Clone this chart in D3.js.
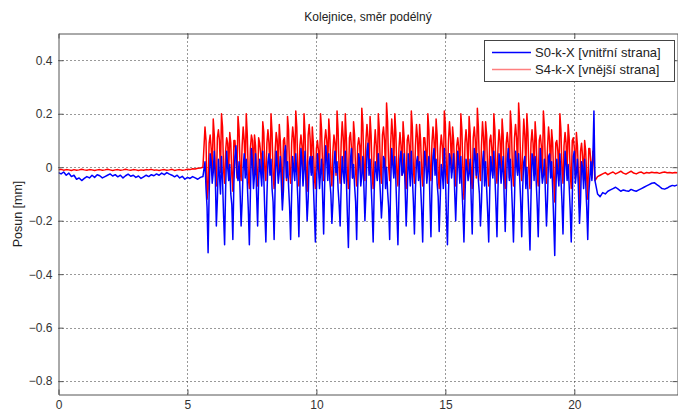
<!DOCTYPE html>
<html><head><meta charset="utf-8">
<script src="https://cdn.jsdelivr.net/npm/d3@7"></script>
<style>body{margin:0;background:#fff}text{font-family:"Liberation Sans",Arial,Helvetica,sans-serif}</style>
</head><body><svg id="c" width="678" height="414"></svg>
<script>
const titleText="Kolejnice, směr podélný";
const yLabel="Posun [mm]";
const seriesNames=["S0-k-X [vnitřní strana]","S4-k-X [vnější strana]"];
const xTicks=[0,5,10,15,20];
const yTicks=[0.4,0.2,0,-0.2,-0.4,-0.6,-0.8];
// sampling grid of each recorded segment: start time, step
const segStart=[0,5.68,20.9];
const segStep=[0.1,0.04,0.1];

const blueA=[-0.02,-0.025,-0.018,-0.03,-0.022,-0.035,-0.03,-0.045,-0.04,-0.05,
-0.042,-0.035,-0.04,-0.03,-0.038,-0.028,-0.032,-0.04,-0.035,-0.03,
-0.025,-0.033,-0.028,-0.036,-0.03,-0.04,-0.032,-0.026,-0.034,-0.03,
-0.038,-0.033,-0.042,-0.036,-0.03,-0.035,-0.028,-0.032,-0.025,-0.03,
-0.022,-0.028,-0.02,-0.026,-0.03,-0.036,-0.03,-0.04,-0.034,-0.045,
-0.038,-0.042,-0.035,-0.04,-0.045,-0.038,-0.035];
const redA=[-0.01,-0.008,-0.011,-0.009,-0.01,-0.012,-0.009,-0.011,-0.01,-0.008,
-0.01,-0.011,-0.009,-0.01,-0.012,-0.01,-0.009,-0.011,-0.01,-0.008,
-0.01,-0.012,-0.01,-0.009,-0.011,-0.01,-0.008,-0.01,-0.011,-0.009,
-0.01,-0.012,-0.01,-0.011,-0.009,-0.01,-0.008,-0.011,-0.01,-0.012,
-0.01,-0.009,-0.011,-0.01,-0.008,-0.012,-0.01,-0.009,-0.011,-0.01,
-0.008,-0.009,-0.006,-0.007,-0.004,-0.003,0.0];

const blueDense=[
0.02,-0.08,-0.15,-0.32,-0.1,0.05,0.02,-0.06,
-0.02,0.06,-0.04,-0.22,-0.12,0.03,-0.03,-0.1,
0.04,-0.05,-0.18,-0.29,-0.08,0.06,0.0,-0.05,
0.01,-0.1,-0.14,-0.27,-0.06,0.04,0.08,-0.02,
-0.05,0.02,-0.09,-0.22,-0.13,0.0,0.05,-0.04,
0.03,-0.06,-0.16,-0.29,-0.1,0.07,0.02,-0.08,
-0.03,0.05,-0.1,-0.22,-0.05,0.03,-0.02,-0.07,
0.06,-0.04,-0.17,-0.28,-0.11,0.02,0.05,-0.03,
0.03,-0.08,-0.13,-0.27,-0.07,0.06,0.01,-0.06,
-0.02,0.04,-0.06,-0.16,-0.09,0.05,0.08,-0.04,
0.02,-0.07,-0.15,-0.27,-0.1,0.04,-0.01,-0.05,
0.05,-0.03,-0.12,-0.26,-0.08,0.07,0.02,-0.07,
-0.01,0.06,-0.08,-0.2,-0.12,0.02,0.04,-0.03,
0.04,-0.06,-0.17,-0.28,-0.09,0.05,0.0,-0.08,
-0.02,0.03,-0.11,-0.25,-0.06,0.08,0.03,-0.05,
0.05,-0.05,-0.1,-0.21,-0.13,0.01,0.06,-0.02,
0.02,-0.08,-0.14,-0.22,-0.07,0.04,-0.02,-0.06,
0.06,-0.04,-0.18,-0.3,-0.11,0.03,0.07,-0.04,
0.01,-0.07,-0.13,-0.27,-0.08,0.05,0.02,-0.07,
-0.03,0.04,-0.07,-0.2,-0.1,0.06,0.09,-0.03,
0.03,-0.06,-0.16,-0.28,-0.09,0.02,-0.01,-0.05,
0.05,-0.02,-0.1,-0.19,-0.12,0.04,0.03,-0.08,
0.0,-0.09,-0.15,-0.27,-0.06,0.07,0.01,-0.04,
0.04,-0.05,-0.17,-0.29,-0.1,0.03,0.06,-0.03,
-0.02,0.05,-0.08,-0.22,-0.11,0.05,0.0,-0.07,
0.06,-0.04,-0.13,-0.25,-0.08,0.02,0.04,-0.05,
0.02,-0.07,-0.16,-0.28,-0.09,0.06,0.02,-0.06,
-0.01,0.04,-0.12,-0.26,-0.07,0.04,0.07,-0.03,
0.03,-0.06,-0.11,-0.24,-0.12,0.01,-0.02,-0.08,
0.07,-0.03,-0.18,-0.29,-0.1,0.05,0.03,-0.04,
0.0,0.05,-0.09,-0.2,-0.08,0.06,0.02,-0.06,
0.04,-0.07,-0.16,-0.28,-0.11,0.03,0.0,-0.05,
-0.02,0.03,-0.12,-0.25,-0.07,0.07,0.04,-0.03,
0.05,-0.05,-0.1,-0.22,-0.13,0.02,0.06,-0.07,
0.02,-0.08,-0.17,-0.28,-0.09,0.04,-0.01,-0.04,
0.06,-0.03,-0.14,-0.26,-0.08,0.05,0.02,-0.06,
-0.01,0.04,-0.11,-0.24,-0.1,0.03,0.07,-0.05,
0.03,-0.06,-0.16,-0.28,-0.12,0.06,0.01,-0.03,
0.05,-0.04,-0.13,-0.26,-0.07,0.02,0.04,-0.08,
0.0,-0.09,-0.19,-0.31,-0.11,0.05,0.03,-0.05,
0.04,-0.05,-0.14,-0.26,-0.09,0.07,0.0,-0.06,
-0.03,0.03,-0.1,-0.22,-0.12,0.04,0.05,-0.04,
0.02,-0.08,-0.2,-0.33,-0.1,0.03,-0.02,-0.07,
0.05,-0.04,-0.13,-0.25,-0.08,0.06,0.02,-0.05,
0.01,-0.07,-0.16,-0.28,-0.11,0.04,0.06,-0.06,
-0.02,0.03,-0.09,-0.21,-0.13,0.02,0.0,-0.08,
0.03,-0.06,-0.15,-0.27,-0.1,-0.04,0.02,-0.05,
0.04,0.21,-0.05];

const redDense=[
0.15,0.1,-0.12,-0.08,0.09,0.12,0.07,-0.03,
0.18,0.12,-0.02,-0.07,0.11,0.14,0.1,-0.02,
0.2,0.15,-0.01,-0.06,0.06,0.11,0.09,-0.02,
0.13,0.09,-0.03,-0.09,0.1,0.1,0.04,-0.04,
0.19,0.14,0.0,-0.05,0.08,0.15,0.1,-0.01,
0.2,0.12,-0.04,-0.08,0.07,0.12,0.1,-0.03,
0.12,0.08,-0.02,-0.07,0.11,0.09,0.05,-0.04,
0.17,0.13,-0.01,-0.05,0.09,0.14,0.09,-0.02,
0.2,0.13,-0.03,-0.08,0.06,0.13,0.1,-0.03,
0.16,0.1,0.0,-0.12,0.1,0.11,0.06,-0.05,
0.19,0.14,-0.02,-0.06,0.09,0.15,0.11,-0.01,
0.21,0.15,-0.01,-0.07,0.08,0.12,0.08,-0.03,
0.2,0.12,-0.03,-0.09,0.12,0.16,0.1,-0.02,
0.15,0.09,-0.04,-0.08,0.07,0.1,0.06,-0.04,
0.2,0.14,0.0,-0.05,0.1,0.14,0.1,-0.01,
0.18,0.12,-0.02,-0.07,0.06,0.12,0.09,-0.03,
0.21,0.14,-0.01,-0.06,0.09,0.17,0.11,-0.02,
0.2,0.11,-0.03,-0.08,0.11,0.13,0.07,-0.04,
0.17,0.12,-0.02,-0.07,0.08,0.11,0.08,-0.03,
0.22,0.16,0.0,-0.05,0.1,0.16,0.11,-0.01,
0.19,0.12,-0.03,-0.08,0.07,0.14,0.08,-0.04,
0.2,0.14,-0.01,-0.06,0.12,0.15,0.1,-0.02,
0.24,0.17,0.0,-0.05,0.09,0.18,0.12,-0.01,
0.2,0.13,-0.02,-0.07,0.07,0.13,0.08,-0.03,
0.17,0.11,-0.03,-0.08,0.1,0.12,0.08,-0.04,
0.21,0.15,-0.01,-0.06,0.08,0.16,0.11,-0.02,
0.16,0.1,-0.02,-0.07,0.11,0.11,0.06,-0.03,
0.2,0.14,0.0,-0.05,0.09,0.15,0.1,-0.01,
0.18,0.12,-0.03,-0.08,0.07,0.12,0.08,-0.04,
0.21,0.16,-0.01,-0.06,0.1,0.17,0.11,-0.02,
0.15,0.1,-0.02,-0.07,0.08,0.11,0.07,-0.03,
0.2,0.14,-0.01,-0.12,0.09,0.14,0.09,-0.02,
0.19,0.13,-0.03,-0.08,0.11,0.15,0.1,-0.04,
0.22,0.15,0.0,-0.05,0.08,0.17,0.11,-0.01,
0.17,0.12,-0.02,-0.07,0.1,0.12,0.07,-0.03,
0.2,0.14,-0.01,-0.06,0.07,0.14,0.1,-0.02,
0.18,0.12,-0.03,-0.08,0.09,0.13,0.08,-0.04,
0.21,0.15,-0.01,-0.07,0.11,0.16,0.11,-0.02,
0.24,0.17,0.0,-0.05,0.08,0.18,0.12,-0.01,
0.2,0.13,-0.02,-0.08,0.09,0.14,0.09,-0.03,
0.17,0.11,-0.03,-0.07,0.1,0.12,0.08,-0.04,
0.21,0.15,-0.01,-0.06,0.07,0.15,0.1,-0.02,
0.14,0.09,-0.04,-0.13,0.09,0.1,0.06,-0.05,
0.2,0.14,-0.01,-0.06,0.08,0.13,0.09,-0.03,
0.16,0.11,-0.02,-0.08,0.1,0.11,0.07,-0.04,
0.13,0.08,-0.03,-0.15,0.06,0.09,0.04,-0.05,
0.1,0.06,-0.04,-0.12,0.07,0.07,0.02,-0.04,
0.06,0.02,-0.05];

const blueB=[-0.1,-0.11,-0.095,-0.1,-0.09,-0.085,-0.08,-0.075,-0.082,-0.09,
-0.085,-0.088,-0.09,-0.083,-0.087,-0.09,-0.085,-0.08,-0.075,-0.07,
-0.065,-0.06,-0.058,-0.065,-0.072,-0.08,-0.082,-0.078,-0.072,-0.068,
-0.07,-0.066];
const redB=[-0.035,-0.03,-0.025,-0.02,-0.028,-0.022,-0.018,-0.025,-0.02,-0.015,
-0.022,-0.026,-0.02,-0.015,-0.022,-0.025,-0.02,-0.018,-0.024,-0.02,
-0.022,-0.019,-0.021,-0.02,-0.023,-0.02,-0.018,-0.021,-0.02,-0.022,
-0.02,-0.021];

function buildSeries(segs){
  const out=[];
  segs.forEach((vals,s)=>vals.forEach((v,i)=>out.push([segStart[s]+i*segStep[s],v])));
  return out;
}
const blueSeries=buildSeries([blueA,blueDense,blueB]);
const redSeries=buildSeries([redA,redDense,redB]);

const L=58.5,R=677.5,T=33.5,B=394.5;
const svg=d3.select("#c");
const x=d3.scaleLinear().domain([0,24]).range([L,R]);
const y=d3.scaleLinear().domain([-0.85,0.5]).range([B,T]);
const axisCol="#555";

svg.append("rect").attr("x",0).attr("y",0).attr("width",678).attr("height",414).attr("fill","#fff");
svg.append("rect").attr("x",L).attr("y",T).attr("width",R-L).attr("height",B-T).attr("fill","#fff");

// grid
const grid=svg.append("g").attr("stroke","#333").attr("stroke-width",1).attr("stroke-dasharray","1,3");
grid.selectAll(".gx").data(xTicks.filter(d=>d>0)).enter().append("line")
 .attr("x1",d=>Math.round(x(d))+0.5).attr("x2",d=>Math.round(x(d))+0.5).attr("y1",T).attr("y2",B);
grid.selectAll(".gy").data(yTicks).enter().append("line")
 .attr("y1",d=>Math.round(y(d))+0.5).attr("y2",d=>Math.round(y(d))+0.5).attr("x1",L).attr("x2",R);

svg.append("clipPath").attr("id","cp").append("rect").attr("x",L).attr("y",T).attr("width",R-L).attr("height",B-T);
const line=d3.line().x(d=>x(d[0])).y(d=>y(d[1]));
const lines=svg.append("g").attr("clip-path","url(#cp)");
lines.append("path").datum(redSeries).attr("d",line).attr("fill","none").attr("stroke","#ff0000").attr("stroke-width",1.5).attr("stroke-linejoin","round");
lines.append("path").datum(blueSeries).attr("d",line).attr("fill","none").attr("stroke","#0000ff").attr("stroke-width",1.5).attr("stroke-linejoin","round");

// axes
function styleAxis(g){
  g.select(".domain").attr("stroke",axisCol);
  g.selectAll(".tick line").attr("stroke",axisCol);
  g.selectAll("text").attr("fill","#333").attr("font-size",12).attr("font-family","Liberation Sans, Arial, sans-serif");
}
svg.append("g").attr("transform",`translate(0,${B})`)
 .call(d3.axisBottom(x).tickValues(xTicks).tickSize(-5).tickSizeOuter(0).tickPadding(6).tickFormat(d3.format("d"))).call(styleAxis);
svg.append("g").attr("transform",`translate(0,${T})`)
 .call(d3.axisTop(x).tickValues(xTicks).tickSize(-5).tickSizeOuter(0).tickFormat("")).call(styleAxis);
svg.append("g").attr("transform",`translate(${L},0)`)
 .call(d3.axisLeft(y).tickValues(yTicks).tickSize(-5).tickSizeOuter(0).tickPadding(6).tickFormat(d=>d===0?"0":d3.format(".1f")(d))).call(styleAxis);
svg.append("g").attr("transform",`translate(${R},0)`)
 .call(d3.axisRight(y).tickValues(yTicks).tickSize(-5).tickSizeOuter(0).tickFormat("")).call(styleAxis);

// title & label
svg.append("text").attr("x",(L+R)/2).attr("y",21).attr("text-anchor","middle").attr("font-size",12).attr("fill","#222").text(titleText);
svg.append("text").attr("transform",`translate(22,${(T+B)/2}) rotate(-90)`).attr("text-anchor","middle").attr("font-size",12.5).attr("fill","#222").text(yLabel);

// legend
const lg=svg.append("g");
lg.append("rect").attr("x",484.5).attr("y",40.5).attr("width",190).attr("height",41).attr("fill","#fff").attr("stroke","#444");
const lcol=["#0000ff","#ff7f7f"];
seriesNames.forEach((n,i)=>{
  const yy=52.5+i*17;
  lg.append("line").attr("x1",492).attr("x2",531).attr("y1",yy).attr("y2",yy).attr("stroke",lcol[i]).attr("stroke-width",1.5);
  lg.append("text").attr("x",535).attr("y",yy+4.5).attr("font-size",13).attr("fill","#222").text(n);
});
</script></body></html>
